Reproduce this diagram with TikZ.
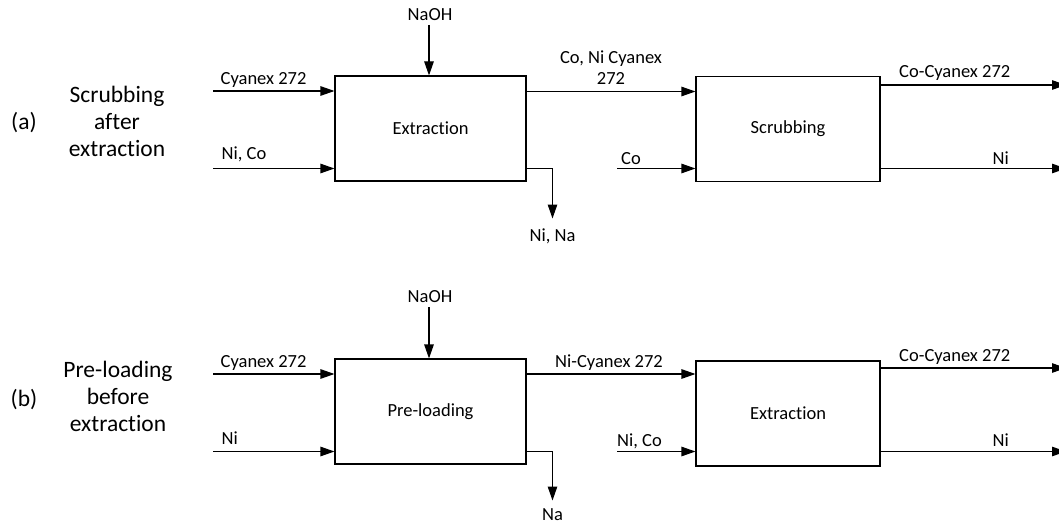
\documentclass[tikz,border=0pt]{standalone}
\usepackage{fontspec}
\setmainfont{Carlito}[Ligatures={NoCommon}]
\usetikzlibrary{arrows.meta}
\begin{document}
\begin{tikzpicture}[x=1pt,y=-1pt,
  proc/.style={draw,line width=1.1pt,rectangle,inner sep=0pt,font=\fontsize{18.5}{22}\selectfont},
  arr/.style={line width=1.1pt,-{Triangle[length=14pt,width=9.5pt]}},
  lbl/.style={inner sep=0pt,font=\fontsize{18.5}{21}\selectfont},
  side/.style={inner sep=0pt,align=center,font=\fontsize{23.5}{27}\selectfont}]
\clip (0,0) rectangle (1059,524);
% ---------- (a) ----------
\node[proc,minimum width=191pt,minimum height=105pt] (ext1) at (430.5,128.5) {Extraction};
\node[proc,minimum width=184pt,minimum height=105pt] (scr1) at (788,129) {Scrubbing};
\node[side,anchor=base] (la) at (24,129) {(a)};
\node[side] (ta) at (117,121) {Scrubbing\\after\\extraction};
% inputs
\coordinate (a-cy) at (213,91);
\coordinate (a-nc) at (213,168.5);
\coordinate (a-na) at (429,25);
\draw[arr] (a-cy) -- (a-cy -| ext1.west);
\draw[arr] (a-nc) -- (a-nc -| ext1.west);
\draw[arr] (a-na) -- (a-na |- ext1.north);
\node[lbl,anchor=base west] (a-cyl) at (220.5,85) {Cyanex 272};
\node[lbl,anchor=base west] (a-ncl) at (221.5,159.5) {Ni, Co};
\node[lbl,anchor=base] (a-nal) at (430,21) {NaOH};
% Ni, Na out
\coordinate (a-nn) at (552.5,218.5);
\draw[arr] (ext1.east |- 0,168.5) -| (a-nn);
\node[lbl,anchor=base] (a-nnl) at (552.5,241) {Ni, Na};
% Co, Ni Cyanex 272
\draw[arr] (ext1.east |- 0,91.5) -- (scr1.west |- 0,91.5);
\node[lbl,align=center,anchor=base] (a-cnl) at (611,85) {Co, Ni Cyanex\\272};
% Co in
\coordinate (a-co) at (617,168.5);
\draw[arr] (a-co) -- (a-co -| scr1.west);
\node[lbl,anchor=base west] (a-col) at (621,164) {Co};
% outputs
\coordinate (a-o1) at (1066,85);
\coordinate (a-o2) at (1066,168.5);
\draw[arr] (scr1.east |- a-o1) -- (a-o1);
\draw[arr] (scr1.east |- a-o2) -- (a-o2);
\node[lbl,anchor=base east] (a-o1l) at (1010.5,78) {Co-Cyanex 272};
\node[lbl,anchor=base east] (a-o2l) at (1009,164) {Ni};
% ---------- (b) ----------
\node[proc,minimum width=191pt,minimum height=105pt] (pre2) at (430.5,411.5) {Pre-loading};
\node[proc,minimum width=184pt,minimum height=105pt] (ext2) at (788,413.5) {Extraction};
\node[side,anchor=base] (lb) at (24,406) {(b)};
\node[side] (tb) at (118,396.5) {Pre-loading\\before\\extraction};
\coordinate (b-cy) at (213,374);
\coordinate (b-ni) at (213,451.5);
\coordinate (b-na) at (429,307);
\draw[arr] (b-cy) -- (b-cy -| pre2.west);
\draw[arr] (b-ni) -- (b-ni -| pre2.west);
\draw[arr] (b-na) -- (b-na |- pre2.north);
\node[lbl,anchor=base west] (b-cyl) at (220.5,367.5) {Cyanex 272};
\node[lbl,anchor=base west] (b-nil) at (221.5,444) {Ni};
\node[lbl,anchor=base] (b-nal) at (430,302) {NaOH};
\coordinate (b-nn) at (552.5,500.5);
\draw[arr] (pre2.east |- 0,451.5) -| (b-nn);
\node[lbl,anchor=base] (b-nnl) at (552.5,520) {Na};
\draw[arr] (pre2.east |- 0,374) -- (ext2.west |- 0,374);
\node[lbl,anchor=base west] (b-ncl) at (555,367) {Ni-Cyanex 272};
\coordinate (b-co) at (617,451.5);
\draw[arr] (b-co) -- (b-co -| ext2.west);
\node[lbl,anchor=base west] (b-col) at (617,446.5) {Ni, Co};
\coordinate (b-o1) at (1066,368);
\coordinate (b-o2) at (1066,451.5);
\draw[arr] (ext2.east |- b-o1) -- (b-o1);
\draw[arr] (ext2.east |- b-o2) -- (b-o2);
\node[lbl,anchor=base east] (b-o1l) at (1010.5,361) {Co-Cyanex 272};
\node[lbl,anchor=base east] (b-o2l) at (1009,446.5) {Ni};
\end{tikzpicture}
\end{document}
